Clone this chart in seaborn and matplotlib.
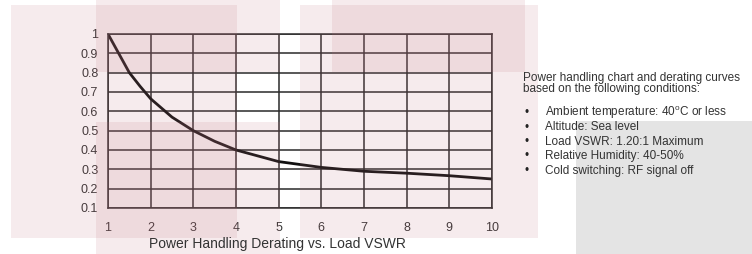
import matplotlib
matplotlib.use("Agg")
import matplotlib.pyplot as plt
from matplotlib.patches import Rectangle
import seaborn as sns
import pandas as pd

# derating curve
vswr = [1, 1.25, 1.5, 1.75, 2, 2.5, 3, 3.5, 4, 4.5, 5, 6, 7, 8, 9, 10]
derating = [1.0, 0.90, 0.80, 0.73, 0.665, 0.57, 0.50, 0.445, 0.40, 0.37, 0.34, 0.31, 0.29, 0.28, 0.267, 0.25]

x_ticks = [1, 2, 3, 4, 5, 6, 7, 8, 9, 10]
y_ticks = [0.1, 0.2, 0.3, 0.4, 0.5, 0.6, 0.7, 0.8, 0.9, 1.0]
y_tick_labels = ["0.1", "0.2", "0.3", "0.4", "0.5", "0.6", "0.7", "0.8", "0.9", "1"]

chart_title = "Power Handling Derating vs. Load VSWR"
intro_lines = ["Power handling chart and derating curves",
               "based on the following conditions:"]
conditions = [
    "Ambient temperature: 40$^\\mathregular{o}$C or less",
    "Altitude: Sea level",
    "Load VSWR: 1.20:1 Maximum",
    "Relative Humidity: 40-50%",
    "Cold switching: RF signal off",
]

sns.set_theme(style="white")
plt.rcParams['font.family'] = ['Liberation Sans', 'DejaVu Sans']
plt.rcParams['mathtext.fontset'] = 'custom'
plt.rcParams['mathtext.rm'] = 'Liberation Sans'

W, H = 752, 254
fig = plt.figure(figsize=(W / 100, H / 100), dpi=100)
fig.patch.set_facecolor("white")

# translucent background blocks (pixel boxes: x0, y0, x1, y1 from top-left)
pink = (0.76, 0.45, 0.50)
blocks = [(11, 5, 237, 238), (96, 0, 280, 72), (96, 122, 280, 254),
          (300, 5, 538, 238), (332, 0, 525, 72)]
for x0, y0, x1, y1 in blocks:
    fig.patches.append(Rectangle((x0 / W, 1 - y1 / H), (x1 - x0) / W, (y1 - y0) / H,
                                 transform=fig.transFigure, facecolor=pink,
                                 alpha=0.14, edgecolor="none", zorder=0))
fig.patches.append(Rectangle((576 / W, 0), (W - 576) / W, (254 - 121) / H,
                             transform=fig.transFigure, facecolor="#e4e4e4",
                             edgecolor="none", zorder=0))

ax = fig.add_axes([108 / W, 1 - 208 / H, (492 - 108) / W, (208 - 34) / H])
ax.patch.set_alpha(0)

df = pd.DataFrame({"vswr": vswr, "derating": derating})
sns.lineplot(data=df, x="vswr", y="derating", color="#111111", linewidth=2, ax=ax)

ax.set_xlim(1, 10)
ax.set_ylim(0.1, 1.0)
ax.set_xticks(x_ticks)
ax.set_yticks(y_ticks)
ax.set_yticklabels(y_tick_labels)
ax.set_xlabel("")
ax.set_ylabel("")
ax.grid(True, color="#2a2a2a", linewidth=1.1)
for s in ax.spines.values():
    s.set_color("#2a2a2a")
    s.set_linewidth(1.1)
ax.tick_params(axis="both", length=0, labelsize=9, colors="#333333")
ax.tick_params(axis="y", pad=7)
ax.tick_params(axis="x", pad=10)

fig.text(277 / W, 1 - 244 / H, chart_title, ha="center", va="center",
         fontsize=10, color="#333333")

fig.text(523 / W, 1 - 78 / H, intro_lines[0], ha="left", va="center", fontsize=8.5, color="#333333")
fig.text(523 / W, 1 - 89 / H, intro_lines[1], ha="left", va="center", fontsize=8.5, color="#333333")
for i, line in enumerate(conditions):
    y = 1 - (113 + i * 14.5) / H
    fig.text(527 / W, y, "\u2022", ha="center", va="center", fontsize=8.5, color="#222222")
    fig.text(545 / W, y, line, ha="left", va="center", fontsize=8.5, color="#333333")

fig.savefig("out.png", dpi=100)
